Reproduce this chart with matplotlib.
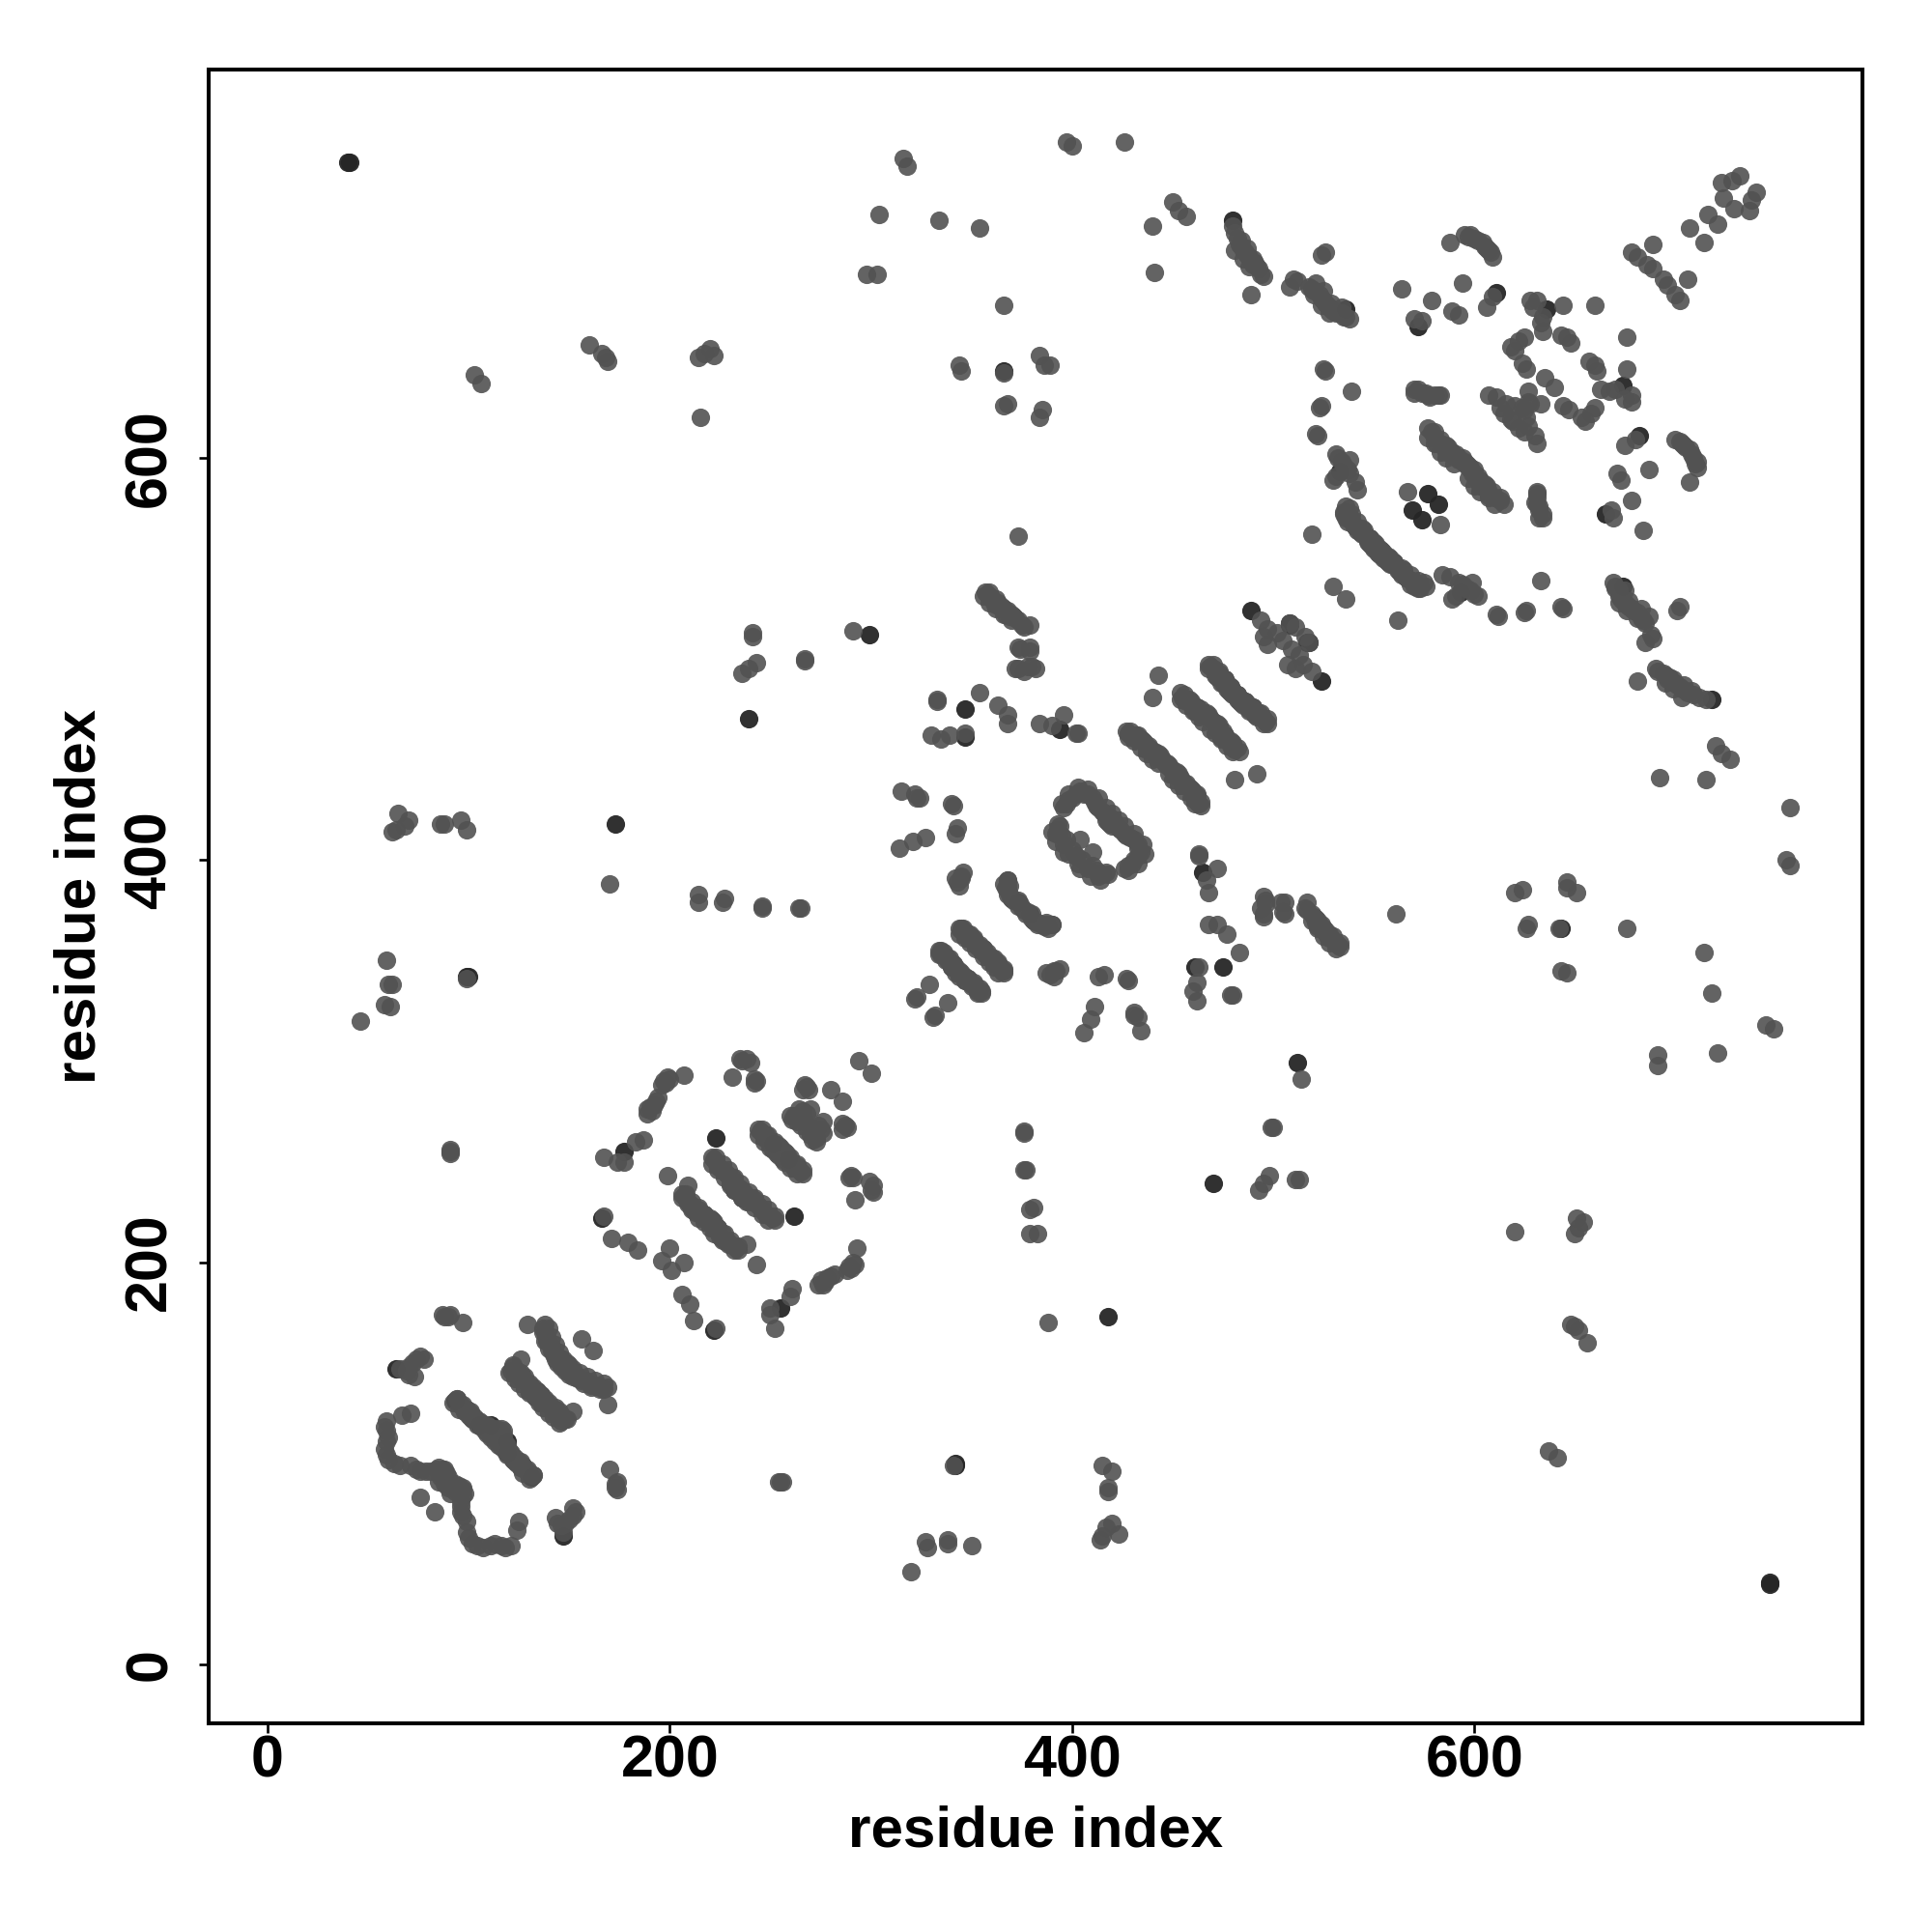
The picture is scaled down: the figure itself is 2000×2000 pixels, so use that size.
import matplotlib
matplotlib.use("Agg")
import matplotlib.pyplot as plt

plt.rcParams['font.family'] = ['Liberation Sans', 'DejaVu Sans']

# contacts, one half only (i < j), map is symmetric
i_normal = [46, 59, 60, 62, 58, 61, 62, 64, 65, 70, 68, 86, 88, 96, 99, 91, 103, 106, 160, 166, 169, 168,
            214, 220, 222, 217, 215, 170, 214, 214, 226, 227, 246, 246, 264, 265, 241, 241, 236, 239, 243, 267,
            291, 304, 298, 303, 316, 318, 334, 354, 366, 344, 345, 368, 366, 384, 385, 384, 389, 386,
            397, 400, 426, 440, 441, 450, 453, 457, 480, 483, 487, 491, 494, 489,
            # top right block
            723, 724, 732, 728, 716, 707, 689, 678, 681, 689,
            524, 526, 510, 508, 518, 523, 527, 533, 538, 564, 579, 589, 592, 594, 609, 606, 570, 574,
            588, 595, 600, 604, 607, 609, 525, 526, 539, 524, 523, 522, 521, 570, 572, 577, 582, 583,
            531, 538, 530, 541, 542, 538, 579, 580, 585, 589, 594, 596, 567, 519, 530,
            538, 537, 542, 546, 550, 554,
            628, 631, 644, 660, 633, 643, 648, 625, 620, 626, 635, 607, 616, 627, 615,
            629, 634, 634, 646, 622, 618, 624, 611, 613, 620, 618, 627, 624,
            # middle block
            373, 357, 360, 364, 368, 372, 375, 379, 379, 373, 372, 380, 382, 333, 333, 354, 363, 368, 368,
            330, 335, 339, 347, 384, 390, 396, 402, 403,
            428, 431, 434, 438, 441, 444, 455, 458, 462, 467, 469, 469, 473, 476, 479, 481, 443, 440,
            494, 497, 508, 511, 497, 495, 505, 502,
            396, 395, 404, 410, 415, 419, 393, 392, 397, 404, 398, 395, 400, 408, 412,
            315, 322, 324, 340, 341, 343, 342, 327, 321, 314, 346, 342, 344, 345, 368, 367, 368, 380, 385, 390, 377,
            344, 347, 352, 356, 351, 334, 337, 341, 343, 329, 323, 322,
            # lower middle block
            199, 207, 196, 193, 190, 189, 235, 240, 231, 242, 243, 294, 268, 267, 280, 264, 260, 270, 263,
            245, 247, 253, 255, 257, 259, 222, 224, 228, 232, 230, 234, 199, 209, 207, 210, 212, 217, 220,
            183, 187, 167, 177, 174, 167, 171, 179, 184, 200, 196,
            # lower left block
            87, 91, 97, 129, 138, 139, 141, 143, 148, 156, 78, 74, 73, 70, 126, 121, 126, 131, 135,
            95, 98, 100, 102, 109, 116, 71, 67, 59, 58, 59, 59, 63, 71, 76, 84, 89, 85, 76]
j_normal = [320, 350, 338, 338, 328, 327, 414, 415, 423, 420, 417, 418, 418, 420, 415, 255, 641, 637, 656, 652, 648, 650,
            650, 654, 651, 652, 620, 388, 383, 379, 379, 381, 377, 376, 376, 376, 513, 511, 493, 495, 498, 499,
            514, 721, 691, 691, 749, 745, 718, 714, 676, 646, 643, 627, 626, 620, 624, 651, 646, 646,
            757, 755, 757, 715, 692, 727, 723, 720, 715, 706, 701, 697, 691, 681,
            737, 729, 740, 738, 721, 714, 706, 702, 700, 694,
            701, 702, 689, 685, 685, 681, 676, 672, 669, 684, 678, 673, 671, 687, 680, 675, 669, 668,
            707, 711, 709, 707, 703, 700, 644, 643, 633, 626, 625, 611, 612, 634, 634, 631, 631, 631,
            602, 599, 589, 588, 584, 592, 613, 610, 605, 603, 600, 597, 583, 562, 536,
            575, 568, 564, 561, 558, 553,
            678, 678, 676, 676, 667, 661, 657, 660, 653, 644, 640, 631, 627, 633, 622,
            675, 670, 663, 660, 658, 655, 647, 630, 625, 626, 619, 628, 625,
            561, 533, 530, 526, 524, 520, 517, 517, 506, 506, 495, 496, 495, 480, 479, 483, 477, 472, 468,
            462, 460, 462, 463, 468, 467, 472, 463, 463,
            463, 462, 460, 457, 454, 452, 481, 480, 476, 473, 470, 496, 493, 490, 486, 482, 492, 481,
            519, 515, 518, 516, 507, 511, 509, 513,
            426, 428, 434, 431, 424, 421, 415, 413, 410, 410, 403, 412, 431, 433, 427,
            434, 433, 431, 428, 427, 416, 413, 411, 409, 406, 394, 391, 387, 391, 390, 386, 383, 373, 368, 368, 373,
            366, 364, 359, 356, 361, 355, 352, 348, 345, 338, 332, 331,
            292, 293, 288, 280, 277, 274, 301, 299, 292, 291, 290, 300, 287, 288, 286, 276, 273, 276, 270,
            265, 262, 256, 256, 253, 251, 251, 248, 244, 240, 238, 235, 243, 238, 233, 229, 226, 224, 220,
            260, 261, 252, 250, 250, 223, 212, 210, 206, 207, 201,
            174, 174, 170, 169, 169, 163, 158, 152, 148, 162, 152, 152, 143, 148, 152, 146, 142, 138, 134,
            127, 126, 125, 122, 117, 115, 125, 124, 121, 118, 111, 104, 100, 99, 96, 97, 95, 91, 83]

# neighbouring contacts that make the strands look solid
i_strand = [94, 92, 96, 97, 99, 101, 101, 103, 104, 106, 107, 109, 110, 112, 113, 114, 117,
            122, 123, 124, 125, 127, 128, 129, 130, 132, 133, 134, 136,
            137, 138, 139, 140, 141, 142, 144, 145, 146, 147, 146,
            59, 60, 58, 60, 66, 74, 79, 81, 86, 87, 90, 88, 86, 85, 88,
            72, 76, 70, 69, 66, 88, 90,
            221, 223, 225, 226, 227, 229, 230, 231, 233, 235, 232,
            244, 246, 248, 249, 250, 252, 254, 255, 256, 258, 260,
            206, 208, 209, 211, 211, 213, 214, 215, 216, 218, 219, 221,
            192, 194, 197, 198, 200, 189, 191, 236, 238, 242, 262, 265, 266, 268, 267, 265, 261, 269, 266,
            345, 346, 348, 349, 350, 353, 354, 355, 335, 336, 338, 339, 340, 342, 344,
            427, 429, 432, 433, 435, 436, 437, 439, 440, 442, 443, 445, 446, 447,
            454, 456, 457, 459, 460, 461, 463, 464, 465, 468,
            468, 470, 471, 472, 474, 475, 477, 478, 480, 482, 483,
            397, 398, 402, 406, 411, 413, 416, 417, 394, 393, 396, 400, 402, 418,
            358, 359, 361, 362, 363, 365, 366, 367, 369, 370, 371, 373, 376,
            379, 374, 373, 378, 376,
            345, 343, 366, 369, 370, 371, 375, 378, 381, 383, 387, 323,
            519, 520, 524, 525, 526, 528, 529, 530, 531, 534, 535, 536, 512,
            481, 482, 484, 485, 486, 488, 489, 490, 492, 493, 495,
            597, 598, 602, 605, 606, 608,
            577, 581, 583, 586, 587, 590, 591, 592, 595, 597,
            535, 536, 537, 539, 540, 541, 543, 544, 547, 548, 549, 551, 552, 553, 555, 556, 557, 558, 559,
            532, 534, 535, 536, 537, 531,
            570, 574, 576, 578, 580, 686,
            91, 91, 267, 99, 366]
j_strand = [132, 130, 129, 128, 127, 125, 123, 122, 121, 120, 118, 119, 118, 117, 116, 117, 116,
            148, 146, 144, 145, 143, 141, 140, 136, 136, 135, 136, 134,
            167, 165, 161, 160, 156, 155, 153, 151, 150, 149, 148,
            116, 113, 107, 102, 99, 97, 96, 96, 93, 97, 93, 90, 95, 98, 97,
            150, 153, 144, 146, 147, 173, 173,
            252, 250, 247, 246, 245, 243, 241, 242, 238, 237, 236,
            266, 264, 263, 261, 260, 259, 257, 254, 255, 252, 250,
            234, 232, 230, 228, 227, 225, 226, 224, 223, 222, 221, 221,
            278, 282, 290, 289, 291, 276, 275, 300, 301, 289, 273, 272, 275, 274, 270, 268, 271, 286, 286,
            365, 366, 362, 363, 360, 357, 358, 355, 353, 354, 350, 351, 347, 347, 344,
            464, 462, 460, 462, 459, 458, 455, 455, 454, 451, 453, 450, 448, 447,
            483, 480, 479, 478, 477, 474, 474, 475, 472, 471,
            497, 495, 494, 491, 491, 488, 488, 484, 484, 481, 479,
            428, 430, 433, 433, 429, 426, 423, 420, 417, 413, 408, 405, 402, 419,
            532, 531, 528, 527, 528, 525, 525, 522, 521, 522, 521, 519, 516,
            504, 505, 495, 496, 494,
            392, 389, 388, 387, 381, 380, 376, 374, 370, 369, 368, 431,
            684, 683, 679, 678, 677, 675, 674, 673, 672, 672, 670, 670, 688,
            712, 709, 705, 703, 702, 700, 698, 696, 695, 694, 690,
            710, 711, 708, 705, 704, 702,
            615, 607, 607, 603, 605, 601, 602, 599, 598, 595,
            572, 570, 571, 569, 567, 566, 563, 565, 559, 560, 557, 556, 554, 555, 551, 549, 548, 549, 547,
            600, 598, 596, 594, 594, 591,
            632, 632, 632, 630, 631, 696,
            254, 256, 500, 341, 642]

# the side rows of the wide strands
i_wide = [94, 97, 99, 101, 103, 105, 107, 109, 111, 98, 100, 102, 104, 106, 108,
          122, 124, 126, 128, 130, 132, 134, 120, 123, 125, 128, 130, 133,
          140, 141, 143, 145, 147, 149, 137, 138, 140, 142, 144,
          223, 226, 229, 232, 235, 221, 224, 227, 230, 232,
          246, 249, 252, 255, 258, 244, 247, 250, 253, 256,
          208, 211, 214, 217, 220, 206, 209, 211, 214, 217,
          345, 348, 351, 354, 344, 347, 349, 352,
          335, 338, 341, 344, 334, 337, 340, 342,
          429, 432, 435, 438, 441, 444, 447, 428, 431, 434, 437, 440, 443,
          456, 459, 462, 465, 468, 454, 457, 460, 463, 465,
          470, 473, 476, 479, 482, 468, 471, 474, 477, 480,
          359, 362, 365, 368, 371, 356, 359, 362, 366, 370,
          536, 539, 542, 545, 548, 551, 554, 535, 538, 541, 544, 547, 550, 553,
          580, 583, 586, 589, 592, 577, 580, 583, 586, 590,
          484, 487, 490, 481, 485, 488,
          521, 525, 529, 534, 520, 524, 528,
          398, 403, 408, 413, 417, 420, 393, 390, 392, 396]
j_wide = [132, 129, 127, 126, 123, 121, 119, 115, 113, 126, 124, 122, 119, 118, 116,
          149, 146, 145, 143, 140, 138, 136, 145, 142, 140, 137, 135, 133,
          167, 163, 159, 155, 152, 150, 165, 161, 157, 154, 150,
          252, 249, 246, 242, 239, 249, 246, 242, 239, 236,
          266, 263, 260, 257, 254, 263, 260, 257, 254, 251,
          234, 230, 227, 224, 222, 232, 229, 226, 222, 220,
          366, 363, 360, 357, 363, 361, 359, 356,
          355, 351, 348, 345, 353, 350, 347, 344,
          464, 462, 459, 456, 453, 450, 448, 461, 459, 456, 453, 450, 448,
          482, 479, 476, 473, 472, 480, 477, 474, 471, 469,
          497, 494, 490, 486, 482, 495, 492, 488, 485, 482,
          533, 530, 526, 523, 521, 531, 528, 525, 522, 519,
          576, 572, 568, 564, 560, 557, 554, 573, 570, 566, 562, 558, 555, 552,
          613, 609, 606, 602, 600, 610, 607, 603, 600, 597,
          708, 704, 699, 703, 699, 695,
          687, 683, 677, 675, 681, 676, 672,
          433, 436, 435, 431, 426, 423, 418, 414, 409, 404]

i_dark = [40, 41, 99, 100, 173, 239, 299, 366, 480, 536, 636, 611, 572, 533, 577, 569,
          347, 347, 394, 489, 508, 517, 373, 223, 251, 177, 166, 64, 93, 105, 111]
j_dark = [747, 747, 342, 342, 418, 470, 512, 643, 718, 674, 674, 682, 665, 593, 582, 574,
          475, 461, 465, 524, 518, 508, 379, 262, 259, 255, 222, 147, 131, 119, 119]

tick_vals = [0, 200, 400, 600]

fig = plt.figure(figsize=(20, 20), dpi=100)
ax = fig.add_axes([216 / 2000, 1 - 1784 / 2000, (1928 - 216) / 2000, (1784 - 72) / 2000])

i_all = i_normal + i_strand + i_wide
j_all = j_normal + j_strand + j_wide
# dark ones first, lighter dots sit on top of them in the reference
ax.scatter(i_dark + j_dark, j_dark + i_dark, s=190, color='#262626', alpha=0.95, linewidths=0)
ax.scatter(i_all + j_all, j_all + i_all, s=190, color='#525252', alpha=0.9, linewidths=0)

ax.set_xlim(-29.3, 793)
ax.set_ylim(-29.3, 793)
ax.set_xticks(tick_vals)
ax.set_yticks(tick_vals)
ax.tick_params(axis='x', length=7.5, width=1.9, labelsize=44, pad=1)
ax.tick_params(axis='y', length=7.5, width=1.9, labelsize=44, pad=15)
for lab in ax.get_xticklabels() + ax.get_yticklabels():
    lab.set_fontweight('bold')
for lab in ax.get_yticklabels():
    lab.set_rotation(90)
    lab.set_va('center')
for s in ax.spines.values():
    s.set_linewidth(2.9)

ax.set_xlabel('residue index', fontsize=43.3, fontweight='bold', labelpad=11)
ax.set_ylabel('residue index', fontsize=43.3, fontweight='bold', labelpad=12.5)

fig.savefig('out.png', dpi=100)
